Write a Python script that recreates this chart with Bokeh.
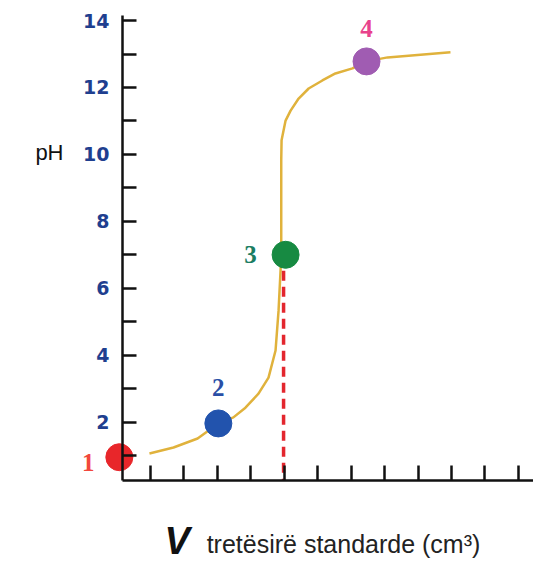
from bokeh.plotting import figure
from bokeh.models import FixedTicker, Label
from bokeh.core.properties import value
from bokeh.embed import file_html
from bokeh.resources import INLINE

# ---- data ----
curve_v = [0.97, 1.69, 2.41, 3.03, 3.48, 3.84, 4.23, 4.53, 4.74, 4.83, 4.89, 4.91,
           4.91, 4.92, 5.04, 5.19, 5.43, 5.73, 6.14, 6.53, 7.04, 7.46, 8.09, 9.97]
curve_ph = [1.06, 1.24, 1.51, 1.96, 2.14, 2.43, 2.85, 3.33, 4.14, 5.33, 6.53, 7.00,
            9.82, 10.42, 11.01, 11.31, 11.67, 11.97, 12.21, 12.42, 12.57, 12.78, 12.90, 13.05]

point_names = ["1", "2", "3", "4"]
point_v = [0.07, 3.03, 5.04, 7.46]
point_ph = [0.95, 1.96, 7.0, 12.78]
point_colors = ["#e8262a", "#2253ad", "#178a42", "#a05cb2"]
label_colors = ["#f2473c", "#2a4fa6", "#1b7d62", "#e8428c"]

equiv_v = 4.98
equiv_ph = 7.0

ph_ticks = list(range(1, 15))
ph_tick_labels = {t: (str(t) if t % 2 == 0 else "") for t in ph_ticks}
v_ticks = list(range(1, 13))

x_title_v = "V"
x_title_rest = "tretësirë standarde (cm³)"
y_title = "pH"

# ---- layout constants (plot area covers the whole canvas) ----
X0, X1 = -3.483, 12.452
Y0, Y1 = -2.167, 14.60
AXIS_V = 0.16      # where the pH axis sits on the V scale
AXIS_PH = 0.254    # where the V axis sits on the pH scale
AXIS_PH_TOP = 14.15

p = figure(width=533, height=561, x_range=(X0, X1), y_range=(Y0, Y1),
           output_backend="svg", toolbar_location=None,
           min_border_left=0, min_border_right=0, min_border_top=0, min_border_bottom=0)
p.outline_line_color = None
p.grid.visible = False
p.background_fill_color = "white"

# y axis
yax = p.yaxis[0]
yax.fixed_location = AXIS_V
yax.bounds = (AXIS_PH, AXIS_PH_TOP)
yax.ticker = FixedTicker(ticks=ph_ticks)
yax.major_label_overrides = ph_tick_labels
yax.major_tick_in = 14
yax.major_tick_out = 0
yax.minor_tick_in = 0
yax.minor_tick_out = 0
yax.axis_line_width = 2.5
yax.major_tick_line_width = 2.5
yax.axis_line_color = "#111111"
yax.major_tick_line_color = "#111111"
yax.major_label_text_font = "DejaVu Sans"
yax.major_label_text_font_style = "bold"
yax.major_label_text_font_size = "19px"
yax.major_label_text_color = "#1f3f8f"
yax.major_label_standoff = 13

# x axis
xax = p.xaxis[0]
xax.fixed_location = AXIS_PH
xax.bounds = (AXIS_V, X1)
xax.ticker = FixedTicker(ticks=v_ticks)
xax.major_tick_in = 15
xax.major_tick_out = 0
xax.minor_tick_in = 0
xax.minor_tick_out = 0
xax.axis_line_width = 2.5
xax.major_tick_line_width = 2.5
xax.axis_line_color = "#111111"
xax.major_tick_line_color = "#111111"
xax.major_label_text_color = None

# curve
p.line(curve_v, curve_ph, line_color="#e0b23c", line_width=2.5)

# dashed equivalence line
p.segment(x0=[equiv_v], y0=[equiv_ph], x1=[equiv_v], y1=[AXIS_PH],
          line_color="#e3262e", line_width=3.5, line_dash="10 6")

# points
p.scatter(point_v, point_ph, size=27, fill_color=point_colors, line_color=point_colors)

# point labels
p.text(x=point_v, y=point_ph, text=point_names,
       x_offset=[-31, 0, -35, 0], y_offset=[5, -36, 0, -33],
       text_color=label_colors, text_font=value("Liberation Serif"),
       text_font_style="bold", text_font_size="25px",
       text_align="center", text_baseline="middle")

# axis titles
p.add_layout(Label(x=-2.44, y=10.06, text=y_title, text_font="Liberation Sans",
                   text_font_size="22px", text_color="#111111",
                   text_align="left", text_baseline="middle"))
p.add_layout(Label(x=1.42, y=-1.55, text=x_title_v, text_font="Liberation Sans",
                   text_font_style="bold italic", text_font_size="38px",
                   text_color="#111111", text_align="left", text_baseline="middle"))
p.add_layout(Label(x=2.68, y=-1.64, text=x_title_rest, text_font="Liberation Sans",
                   text_font_size="25px", text_color="#222222",
                   text_align="left", text_baseline="middle"))

open("out.html", "w").write(file_html(p, INLINE))
